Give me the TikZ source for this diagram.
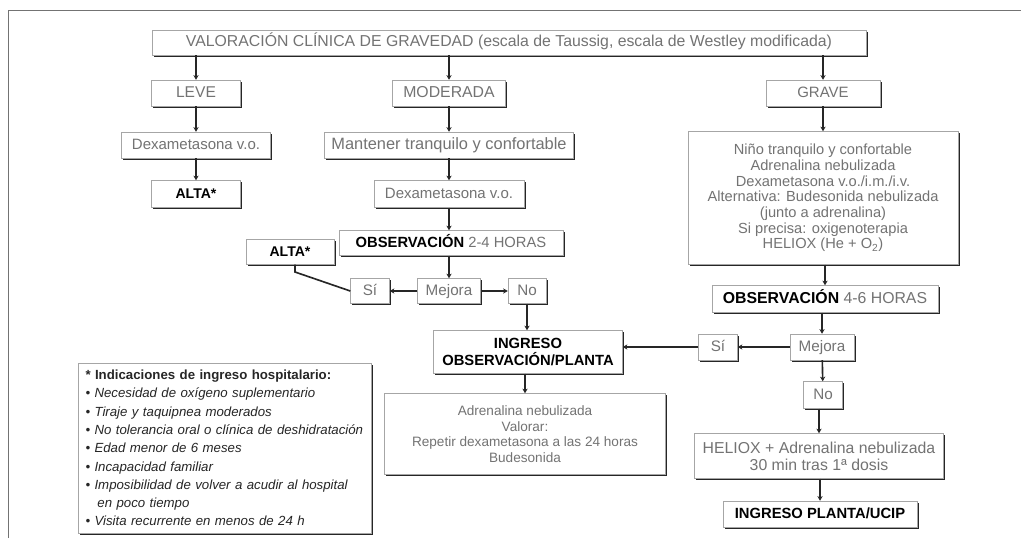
\documentclass[tikz,border=0pt]{standalone}
\usepackage{fontspec}
\setmainfont{Liberation Sans}
\usepackage{tikz}
\usetikzlibrary{arrows.meta,shadows}

\begin{document}
\begin{tikzpicture}[x=0.03cm,y=-0.03cm,
  box/.style={draw=black!35, line width=0.4pt, fill=white, text=black!55, align=center, inner sep=1pt,
    text height=1.05em, text depth=0.34em,
    drop shadow={shadow xshift=1.6pt, shadow yshift=-1.6pt, fill=black!85, opacity=1}},
  multi/.style={text height=, text depth=},
  wh/.style 2 args={minimum width=#1*0.03cm, minimum height=#2*0.03cm},
  fs/.style 2 args={font=\fontsize{#1}{#2}\selectfont},
  strong/.style={text=black},
  arr/.style={-{Stealth[length=4pt,width=4.5pt]}, line width=1.4pt, black!85},
  ln/.style={line width=1.4pt, black!85}]
  \useasboundingbox (0,0) rectangle (1021,538);
  \draw[black!55, line width=0.8pt] (8,538) -- (8,10) -- (1021,10);

  \node[box, fs={13.5}{15}, wh={714}{25}] (valor) at (509,42.5) {VALORACIÓN CLÍNICA DE GRAVEDAD (escala de Taussig, escala de Westley modificada)};

  \node[box, fs={13.3}{15}, wh={89}{26}] (leve) at (196,93) {LEVE};
  \node[box, fs={13.5}{15}, wh={113}{26}] (moder) at (449,93) {MODERADA};
  \node[box, fs={12.8}{15}, wh={114}{26}] (grave) at (823,93) {GRAVE};

  \node[box, fs={12.8}{15}, wh={149}{26}] (dexaL) at (196,145) {Dexametasona v.o.};
  \node[box, strong, fs={12}{14}, wh={89}{27}] (altaL) at (196,194) {\bfseries ALTA*};

  \node[box, fs={14}{15.5}, wh={249}{26}] (mant) at (449,145) {Mantener tranquilo y confortable};
  \node[box, fs={12.8}{15}, wh={150}{27}] (dexaM) at (449,194) {Dexametasona v.o.};
  \node[box, fs={12.6}{14}, wh={224}{25}] (obsM) at (451,243) {\textcolor{black}{\bfseries OBSERVACIÓN} 2-4 HORAS};
  \node[box, strong, fs={12}{14}, wh={88}{25}] (altaM) at (290,252) {\bfseries ALTA*};
  \node[box, fs={13}{14}, wh={39}{25}] (siM) at (370,291) {Sí};
  \node[box, fs={13}{14}, wh={63}{25}] (mejM) at (449,291) {Mejora};
  \node[box, fs={13}{14}, wh={38}{25}] (noM) at (527,291) {No};

  \node[box, multi, strong, fs={12.6}{14}, wh={189}{43}] (ingr) at (528,352) {\bfseries INGRESO\\\bfseries OBSERVACIÓN/PLANTA};
  \node[box, multi, fs={11.6}{13.4}, wh={281}{81}] (trat) at (525,434) {Adrenalina nebulizada\\Valorar:\\Repetir dexametasona a las 24 horas\\Budesonida};

  \node[box, multi, fs={12.5}{13.4}, wh={270}{133}] (graveT) at (823,198) {Niño tranquilo y confortable\\Adrenalina nebulizada\\Dexametasona v.o./i.m./i.v.\\Alternativa: Budesonida nebulizada\\(junto a adrenalina)\\Si precisa: oxigenoterapia\\HELIOX (He + O\textsubscript{2})};
  \node[box, fs={13.5}{15}, wh={226}{27}] (obsG) at (825,299) {\textcolor{black}{\bfseries OBSERVACIÓN} 4-6 HORAS};
  \node[box, fs={13}{14}, wh={64}{26}] (mejG) at (822,347) {Mejora};
  \node[box, fs={13}{14}, wh={39}{26}] (siG) at (718,347) {Sí};
  \node[box, fs={13}{14}, wh={39}{27}] (noG) at (823,395) {No};
  \node[box, multi, fs={13.5}{14.5}, wh={249}{45}] (helio) at (819,456) {HELIOX + Adrenalina nebulizada\\30 min tras 1ª dosis};
  \node[box, strong, fs={12.6}{14}, wh={194}{26}] (ucip) at (820,514) {\bfseries INGRESO PLANTA/UCIP};

  \node[box, multi, wh={293}{158}, text=black!85, align=left, text width=279*0.03cm, inner sep=6pt,
    font=\fontsize{11.3}{15.6}\selectfont\itshape] (leyenda) at (225,448)
    {{\upshape\bfseries * Indicaciones de ingreso hospitalario:}\\
     \textbullet\ Necesidad de oxígeno suplementario\\
     \textbullet\ Tiraje y taquipnea moderados\\
     \textbullet\ No tolerancia oral o clínica de deshidratación\\
     \textbullet\ Edad menor de 6 meses\\
     \textbullet\ Incapacidad familiar\\
     \textbullet\ Imposibilidad de volver a acudir al hospital\\
     \hspace*{0.9em}en poco tiempo\\
     \textbullet\ Visita recurrente en menos de 24 h};

  \draw[arr] (valor.south -| leve) -- (leve.north);
  \draw[arr] (valor.south -| moder) -- (moder.north);
  \draw[arr] (valor.south -| grave) -- (grave.north);
  \draw[arr] (leve) -- (dexaL);
  \draw[arr] (dexaL) -- (altaL);
  \draw[arr] (moder) -- (mant);
  \draw[arr] (mant) -- (dexaM);
  \draw[arr] (dexaM) -- (dexaM |- obsM.north);
  \draw[arr] (obsM.south -| mejM) -- (mejM.north);
  \draw[arr] (mejM) -- (siM);
  \draw[arr] (mejM) -- (noM);
  \coordinate (kink) at (295,272);
  \draw[ln] (siM.west) -- (kink) -- (kink |- altaM.south);
  \draw[arr] (noM.south) -- (noM.south |- ingr.north);
  \draw[arr] (ingr.south -| trat) -- (trat.north);
  \draw[arr] (grave) -- (grave |- graveT.north);
  \draw[arr] (graveT.south -| obsG) -- (obsG.north);
  \draw[arr] (obsG.south -| mejG) -- (mejG.north);
  \draw[arr] (mejG) -- (siG);
  \draw[arr] (siG) -- (ingr.east |- siG);
  \draw[arr] (mejG) -- (noG);
  \draw[arr] (noG.south -| helio) -- (helio.north);
  \draw[arr] (helio.south -| ucip) -- (ucip.north);
\end{tikzpicture}
\end{document}
